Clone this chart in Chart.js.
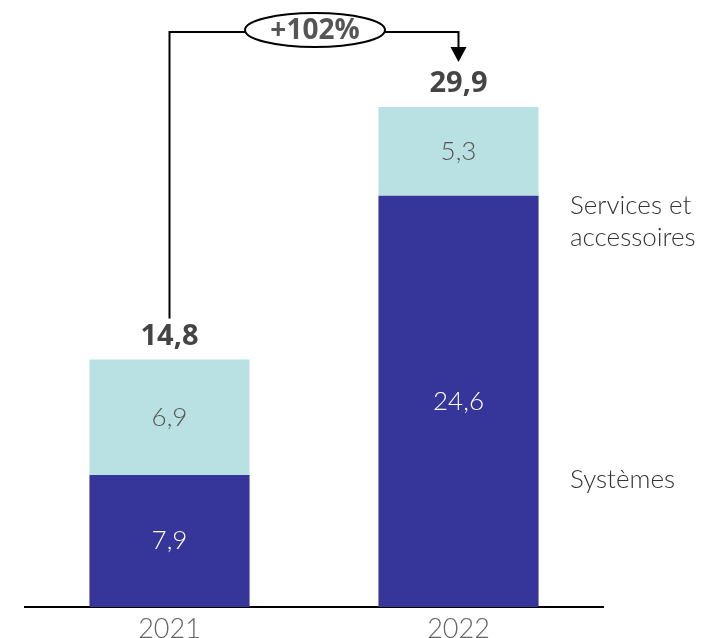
<!DOCTYPE html>
<html lang="fr">
<head>
    <meta charset="UTF-8">
    <title>Chiffre d'affaires 2021-2022</title>
    <script src="https://cdn.jsdelivr.net/npm/chart.js"></script>
    <style>
        html, body { margin: 0; padding: 0; background: #fff; }
        #wrap { width: 708px; height: 638px; }
    </style>
</head>
<body>
    <div id="wrap"><canvas id="revenueChart"></canvas></div>

    <script>
        const years = ['2021', '2022'];
        const systemes = [7.9, 24.6];
        const services = [6.9, 5.3];
        const totals = ['14,8', '29,9'];
        const growthLabel = '+102%';

        const darkBlue = '#35359a';
        const lightBlue = '#b9e0e3';
        const textGrey = '#555555';

        function fr(v) { return v.toFixed(1).replace('.', ','); }

        // labels inside bars, totals, year labels, legend and the growth bracket
        const overlay = {
            id: 'overlay',
            afterDatasetsDraw(chart) {
                const ctx = chart.ctx;
                ctx.save();
                ctx.textAlign = 'center';
                ctx.textBaseline = 'middle';

                chart.data.datasets.forEach((ds, di) => {
                    const meta = chart.getDatasetMeta(di);
                    meta.data.forEach((bar, i) => {
                        const mid = (bar.y + bar.base) / 2;
                        ctx.font = '300 26px Lato';
                        ctx.fillStyle = di === 0 ? '#ffffff' : textGrey;
                        ctx.fillText(fr(ds.data[i]), bar.x, mid);
                    });
                });

                // year labels under the axis
                ctx.font = '300 27px Lato';
                ctx.fillStyle = '#666666';
                chart.getDatasetMeta(0).data.forEach((bar, i) => {
                    ctx.fillText(years[i], bar.x, chart.chartArea.bottom + 22);
                });

                // totals above the bars
                const topMeta = chart.getDatasetMeta(1);
                ctx.font = 'bold 29px "Open Sans"';
                ctx.fillStyle = '#444444';
                topMeta.data.forEach((bar, i) => {
                    ctx.fillText(totals[i], bar.x, bar.y - 23);
                });

                // legend on the right
                ctx.textAlign = 'left';
                ctx.font = '300 26px Lato';
                ctx.fillStyle = '#333333';
                const lx = chart.chartArea.right - 33;
                ctx.fillText('Services et', lx, 206);
                ctx.fillText('accessoires', lx, 238);
                ctx.fillText('Systèmes', lx, 480);

                // growth bracket
                const x0 = topMeta.data[0].x;
                const x1 = topMeta.data[1].x;
                const lineY = 32;
                const ex = 315, ey = 30, rx = 70, ry = 17;
                ctx.strokeStyle = '#000';
                ctx.lineWidth = 2;
                ctx.beginPath();
                ctx.moveTo(x0, topMeta.data[0].y - 41);
                ctx.lineTo(x0, lineY);
                ctx.lineTo(ex - rx, lineY);
                ctx.moveTo(ex + rx, lineY);
                ctx.lineTo(x1, lineY);
                ctx.lineTo(x1, topMeta.data[1].y - 58);
                ctx.stroke();
                ctx.beginPath();
                ctx.moveTo(x1 - 8, topMeta.data[1].y - 60);
                ctx.lineTo(x1 + 8, topMeta.data[1].y - 60);
                ctx.lineTo(x1, topMeta.data[1].y - 45);
                ctx.closePath();
                ctx.fillStyle = '#000';
                ctx.fill();

                ctx.beginPath();
                ctx.ellipse(ex, ey, rx, ry, 0, 0, Math.PI * 2);
                ctx.fillStyle = '#fff';
                ctx.fill();
                ctx.stroke();
                ctx.textAlign = 'center';
                ctx.font = 'bold 28px "Open Sans"';
                ctx.fillStyle = '#555555';
                ctx.fillText(growthLabel, ex, ey + 1);

                ctx.restore();
            }
        };

        new Chart(document.getElementById('revenueChart'), {
            type: 'bar',
            data: {
                labels: years,
                datasets: [
                    { label: 'Systèmes', data: systemes, backgroundColor: darkBlue, barPercentage: 0.554, categoryPercentage: 1 },
                    { label: 'Services et accessoires', data: services, backgroundColor: lightBlue, barPercentage: 0.554, categoryPercentage: 1 }
                ]
            },
            options: {
                responsive: true,
                maintainAspectRatio: false,
                animation: false,
                layout: { padding: { left: 25, right: 105, top: 5, bottom: 31 } },
                plugins: { legend: { display: false }, tooltip: { enabled: false } },
                scales: {
                    x: {
                        stacked: true,
                        grid: { display: false, drawTicks: false },
                        border: { display: true, color: '#000', width: 2 },
                        ticks: { display: false }
                    },
                    y: {
                        stacked: true,
                        display: false,
                        min: 0,
                        max: 36
                    }
                }
            },
            plugins: [overlay]
        });
    </script>
</body>
</html>
